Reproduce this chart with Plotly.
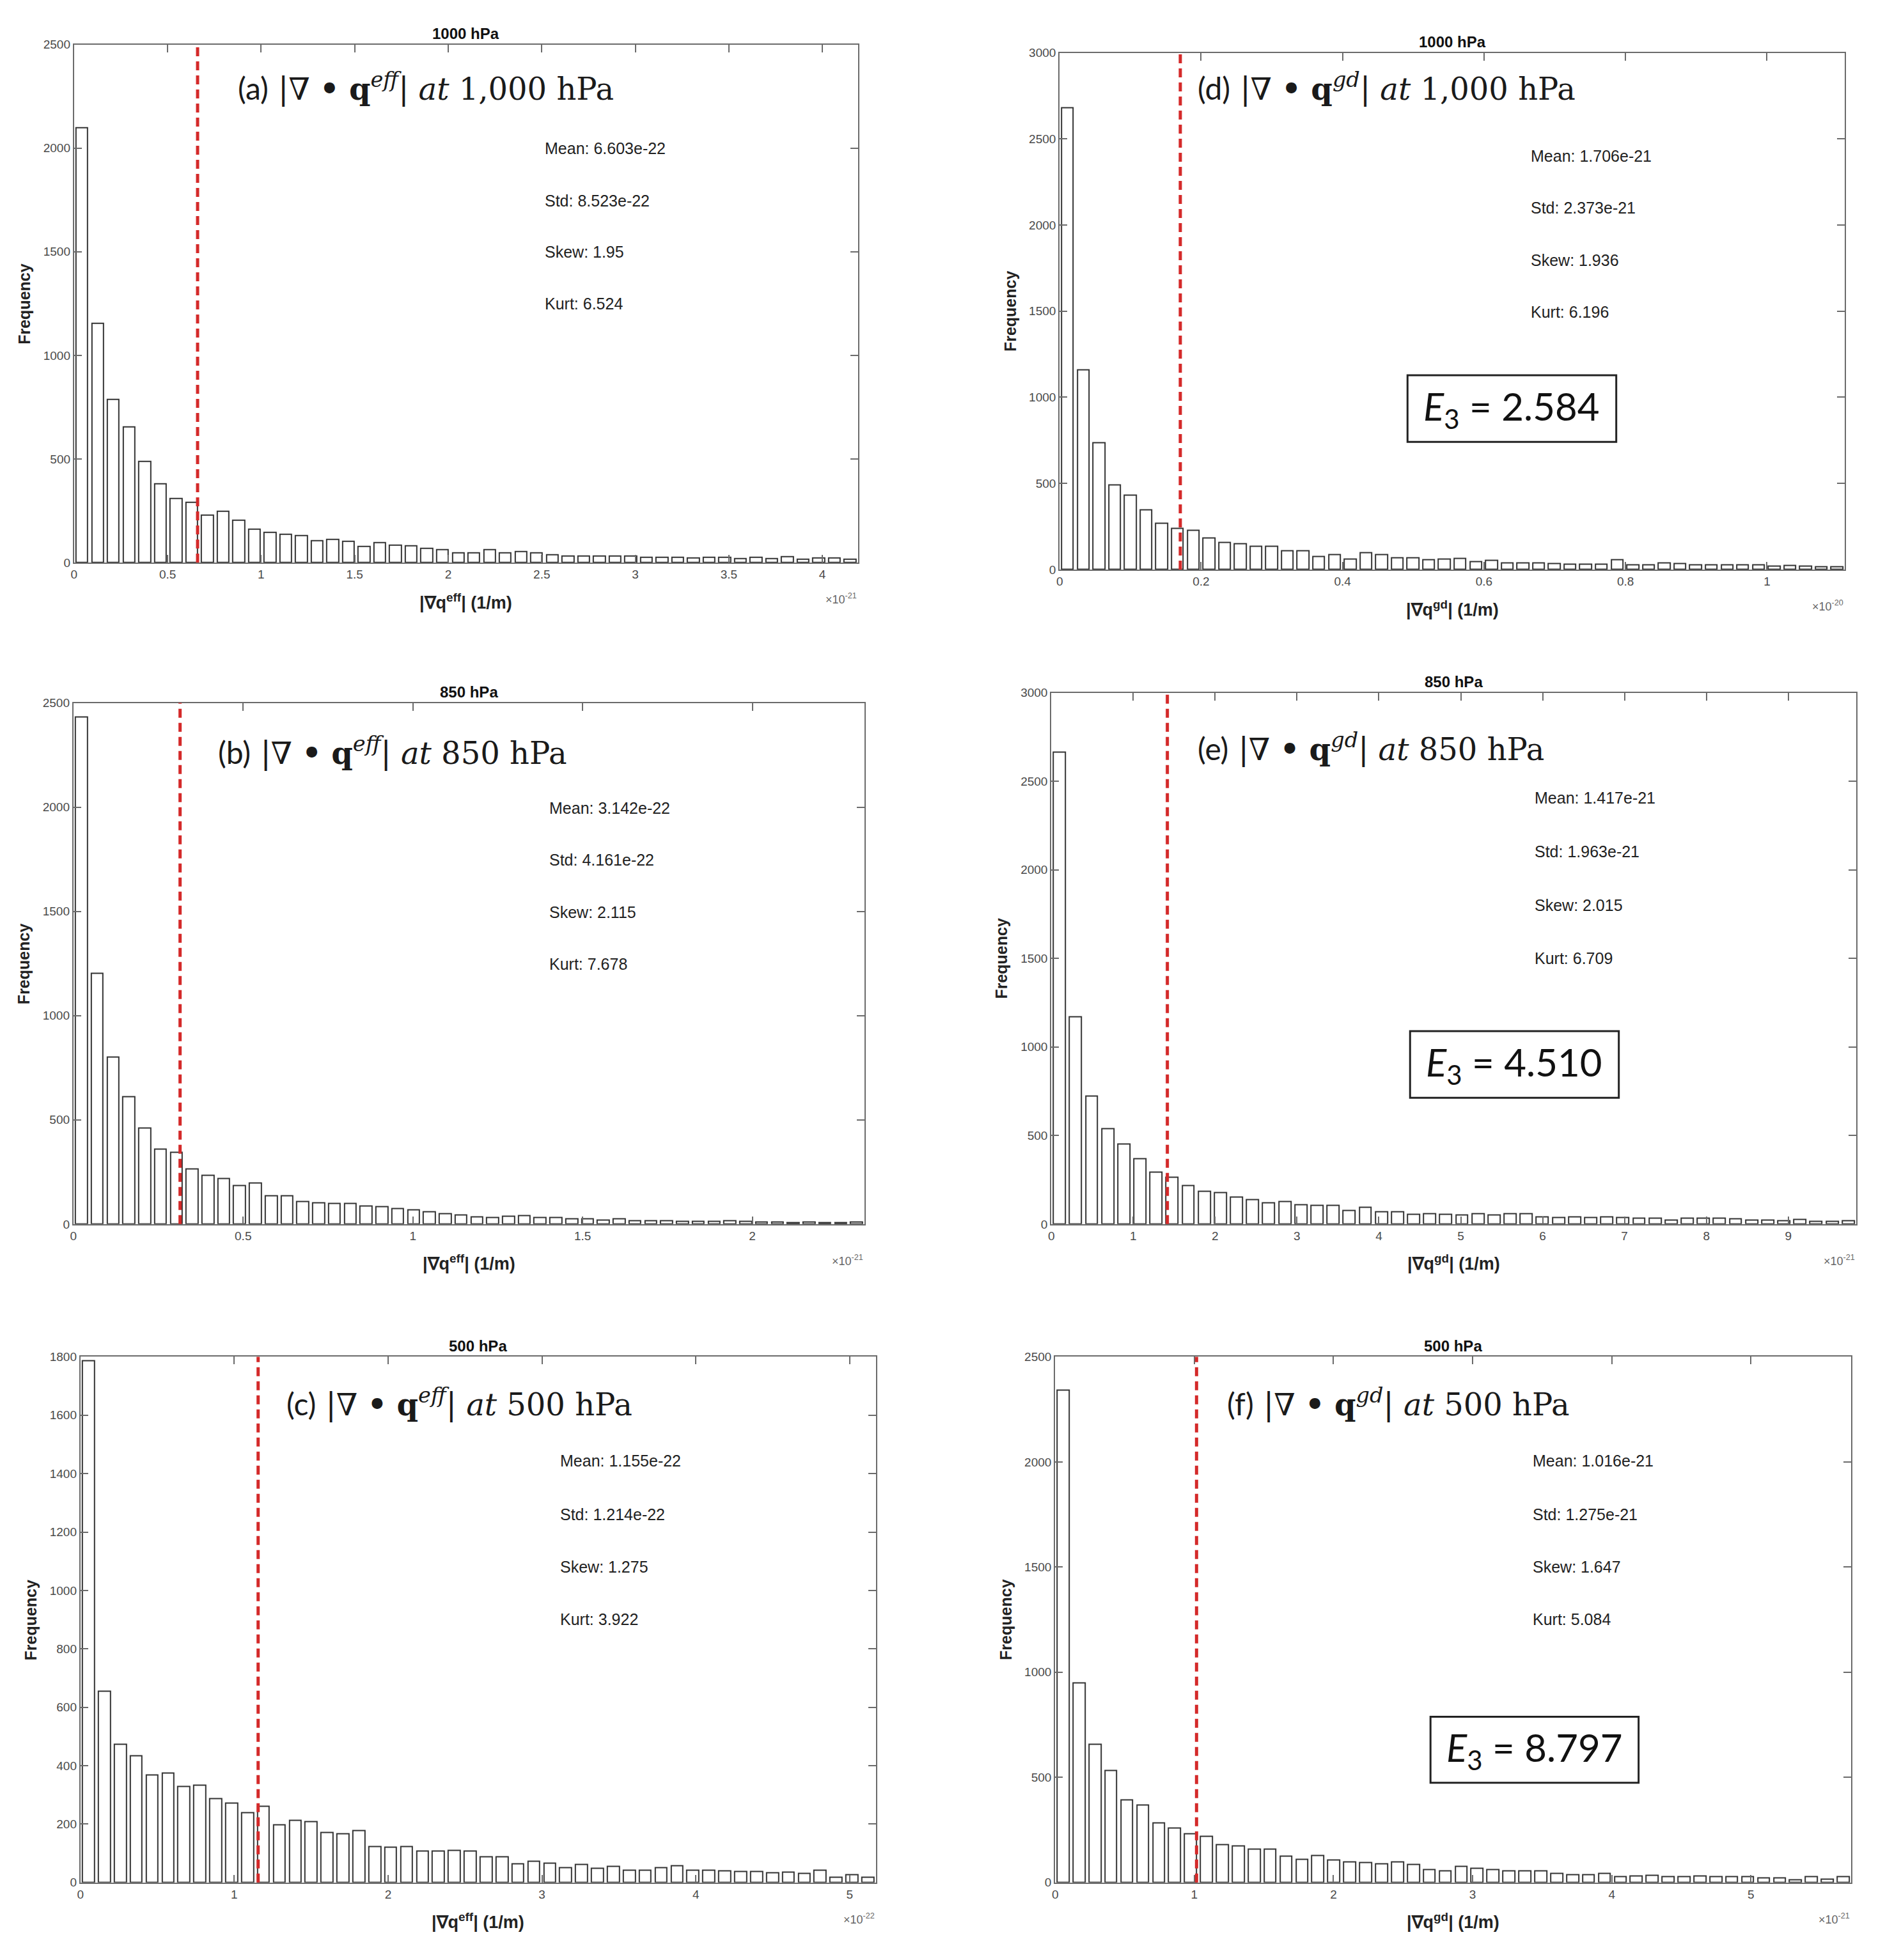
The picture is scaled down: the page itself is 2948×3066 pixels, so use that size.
import numpy as np
import plotly.graph_objects as go
from plotly.subplots import make_subplots

W, H = 2948, 3066
PAGE_MARGIN = 8  # default body margin of the html page

# histogram counts (50 bins each)
counts_a = [2100, 1156, 787, 654, 488, 381, 310, 291, 230, 248, 205, 162, 146, 137, 131, 107, 111, 103, 78, 98,
            84, 80, 70, 64, 49, 49, 62, 49, 55, 47, 39, 33, 33, 33, 31, 31, 27, 27, 27, 23,
            25, 27, 21, 25, 20, 29, 18, 23, 23, 18]
counts_d = [2680, 1160, 738, 491, 432, 345, 268, 240, 228, 183, 157, 150, 134, 134, 108, 108, 75, 85, 61, 99,
            87, 68, 68, 56, 61, 66, 47, 52, 40, 40, 40, 35, 33, 33, 33, 56, 28, 26, 40, 35,
            26, 26, 26, 28, 26, 21, 23, 21, 16, 16]
counts_b = [2433, 1204, 800, 612, 462, 359, 346, 266, 235, 219, 184, 198, 136, 136, 109, 101, 99, 99, 87, 83,
            74, 70, 60, 50, 45, 35, 31, 39, 41, 33, 33, 27, 25, 21, 25, 16, 16, 16, 12, 14,
            14, 17, 12, 10, 10, 8, 10, 8, 8, 10]
counts_e = [2664, 1172, 722, 539, 452, 370, 292, 263, 217, 185, 178, 151, 137, 119, 126, 110, 105, 105, 78, 94,
            69, 69, 55, 59, 55, 53, 57, 53, 59, 59, 41, 37, 39, 37, 39, 37, 34, 34, 23, 32,
            32, 32, 30, 23, 23, 18, 27, 16, 16, 18]
counts_c = [1786, 656, 473, 433, 369, 374, 328, 333, 287, 272, 239, 261, 197, 213, 208, 172, 167, 178, 124, 120,
            123, 108, 108, 111, 108, 89, 89, 64, 72, 67, 51, 61, 48, 56, 42, 42, 52, 57, 42, 42,
            40, 37, 37, 33, 36, 31, 42, 19, 27, 19]
counts_f = [2342, 949, 659, 532, 393, 370, 285, 260, 232, 220, 180, 175, 159, 159, 127, 110, 129, 108, 99, 95,
            89, 99, 85, 61, 55, 76, 68, 61, 55, 55, 57, 42, 36, 36, 42, 27, 32, 34, 27, 27,
            30, 27, 28, 27, 23, 23, 13, 27, 17, 27]

# x axis limits (in units of the exponent shown) and means
x_max = {"a": 4.19, "d": 1.11, "b": 2.33, "e": 9.83, "c": 5.17, "f": 5.72}
means = {"a": 0.6603, "d": 0.1706, "b": 0.3142, "e": 1.417, "c": 1.155, "f": 1.016}
exponents = {"a": "-21", "d": "-20", "b": "-21", "e": "-21", "c": "-22", "f": "-21"}
y_max = {"a": 2500, "d": 3000, "b": 2500, "e": 3000, "c": 1800, "f": 2500}
y_step = {"a": 500, "d": 500, "b": 500, "e": 500, "c": 200, "f": 500}
x_ticks = {
    "a": [0, 0.5, 1, 1.5, 2, 2.5, 3, 3.5, 4],
    "d": [0, 0.2, 0.4, 0.6, 0.8, 1],
    "b": [0, 0.5, 1, 1.5, 2],
    "e": [0, 1, 2, 3, 4, 5, 6, 7, 8, 9],
    "c": [0, 1, 2, 3, 4, 5],
    "f": [0, 1, 2, 3, 4, 5],
}
levels = {"a": "1000 hPa", "d": "1000 hPa", "b": "850 hPa", "e": "850 hPa", "c": "500 hPa", "f": "500 hPa"}
labels = {
    "a": ("(a)", "eff", "1,000 hPa"),
    "d": ("(d)", "gd", "1,000 hPa"),
    "b": ("(b)", "eff", "850 hPa"),
    "e": ("(e)", "gd", "850 hPa"),
    "c": ("(c)", "eff", "500 hPa"),
    "f": ("(f)", "gd", "500 hPa"),
}
stats = {
    "a": ["Mean: 6.603e-22", "Std: 8.523e-22", "Skew: 1.95", "Kurt: 6.524"],
    "d": ["Mean: 1.706e-21", "Std: 2.373e-21", "Skew: 1.936", "Kurt: 6.196"],
    "b": ["Mean: 3.142e-22", "Std: 4.161e-22", "Skew: 2.115", "Kurt: 7.678"],
    "e": ["Mean: 1.417e-21", "Std: 1.963e-21", "Skew: 2.015", "Kurt: 6.709"],
    "c": ["Mean: 1.155e-22", "Std: 1.214e-22", "Skew: 1.275", "Kurt: 3.922"],
    "f": ["Mean: 1.016e-21", "Std: 1.275e-21", "Skew: 1.647", "Kurt: 5.084"],
}
e3_values = {"d": "2.584", "e": "4.510", "f": "8.797"}
counts = {"a": counts_a, "d": counts_d, "b": counts_b, "e": counts_e, "c": counts_c, "f": counts_f}

# layout in page pixels: plot box (x0, x1, y0, y1), label pos, stats pos, E3 box
boxes = {
    "a": (111, 1339, 60, 876), "d": (1655, 2885, 73, 887),
    "b": (110, 1349, 1097, 1918), "e": (1642, 2903, 1081, 1918),
    "c": (121, 1367, 2127, 2955), "f": (1648, 2895, 2127, 2955),
}
label_pos = {"a": (366, 127), "d": (1869, 127), "b": (335, 1173), "e": (1869, 1167), "c": (442, 2199), "f": (1915, 2199)}
stats_pos = {"a": (846, [223, 306, 387, 468]), "d": (2391, [236, 317, 400, 481]),
             "b": (853, [1263, 1344, 1427, 1508]), "e": (2397, [1247, 1331, 1416, 1499]),
             "c": (870, [2291, 2375, 2458, 2540]), "f": (2394, [2291, 2375, 2458, 2540])}
e3_box = {"d": (2200, 2527, 581, 686), "e": (2204, 2531, 1614, 1719), "f": (2236, 2562, 2694, 2798)}

order = ["a", "d", "b", "e", "c", "f"]

FW, FH = W - 2 * PAGE_MARGIN, H - 2 * PAGE_MARGIN


def px(x):
    return (x - PAGE_MARGIN) / FW


def py(y):
    return 1 - (y - PAGE_MARGIN) / FH


fig = make_subplots(rows=3, cols=2)
annotations = []
shapes = []

axis_color = "#6b6b6b"
tick_font = dict(family="Liberation Sans", size=19, color="#4a4a4a")


def note(text, x, y, size, xanchor="center", family="Liberation Sans", color="#222", **kw):
    annotations.append(dict(text=text, x=px(x), y=py(y), xref="paper", yref="paper", showarrow=False,
                            xanchor=xanchor, yanchor="middle", font=dict(family=family, size=size, color=color),
                            **kw))


for i, key in enumerate(order):
    row, col = i // 2 + 1, i % 2 + 1
    n = len(counts[key])
    bw = x_max[key] / n
    centers = (np.arange(n) + 0.5) * bw
    fig.add_trace(
        go.Bar(
            x=centers, y=counts[key], width=bw * 0.75,
            marker=dict(color="white", line=dict(color="#333333", width=2)),
            showlegend=False,
        ),
        row=row, col=col,
    )
    x0, x1, y0, y1 = boxes[key]
    sfx = "" if i == 0 else str(i + 1)
    fig.layout["xaxis" + sfx].update(
        domain=[px(x0), px(x1)], range=[0, x_max[key]], tickvals=x_ticks[key],
        ticks="inside", ticklen=12, tickcolor=axis_color, tickwidth=2,
        showline=True, linecolor=axis_color, linewidth=2, mirror="ticks",
        showgrid=False, zeroline=False, tickfont=tick_font,
    )
    fig.layout["yaxis" + sfx].update(
        domain=[py(y1), py(y0)], range=[0, y_max[key]],
        tickvals=list(range(0, y_max[key] + 1, y_step[key])),
        ticks="inside", ticklen=12, tickcolor=axis_color, tickwidth=2,
        showline=True, linecolor=axis_color, linewidth=2, mirror="ticks",
        showgrid=False, zeroline=False, tickfont=tick_font,
    )
    xref, yref = "x" + sfx, "y" + sfx

    # mean line
    shapes.append(dict(type="line", xref=xref, yref=yref + " domain", x0=means[key], x1=means[key], y0=0, y1=1,
                       line=dict(color="#D42A2A", width=5, dash="14px,8px")))

    xc = (x0 + x1) / 2
    note("<b>" + levels[key] + "</b>", xc, y0 - 17, 24, color="#111")
    sup = labels[key][1]
    note("<b>|∇q<sup>" + sup + "</sup>| (1/m)</b>", xc, y1 + 61, 27)
    note("×10<sup>" + exponents[key] + "</sup>", x1, y1 + 57, 18, xanchor="right", color="#666")
    note("<b>Frequency</b>", x0 - 78, (y0 + y1) / 2, 25, textangle=-90)

    tag, s, lev = labels[key]
    lx, ly = label_pos[key]
    note('<span style="font-family:Lato">' + tag + "</span> |∇ <b>•</b> <b>q</b><sup><i>" + s + "</i></sup>| <i>at</i> " + lev,
         lx, ly, 48, xanchor="left", family="DejaVu Serif", color="#1a1a1a")

    sx, sys_ = stats_pos[key]
    for txt, sy in zip(stats[key], sys_):
        note(txt, sx, sy, 25, xanchor="left")

    if key in e3_box:
        bx0, bx1, by0, by1 = e3_box[key]
        shapes.append(dict(type="rect", xref="paper", yref="paper", x0=px(bx0), x1=px(bx1), y0=py(by1), y1=py(by0),
                           line=dict(color="#222", width=3), fillcolor="white"))
        note("<i>E</i><sub>3</sub> = " + e3_values[key], (bx0 + bx1) / 2, (by0 + by1) / 2, 60,
             family="Lato", color="#111")

fig.update_layout(
    width=FW, height=FH, margin=dict(l=0, r=0, t=0, b=0),
    plot_bgcolor="white", paper_bgcolor="white",
    annotations=annotations, shapes=shapes, bargap=0,
)

fig.write_html("out.html")
